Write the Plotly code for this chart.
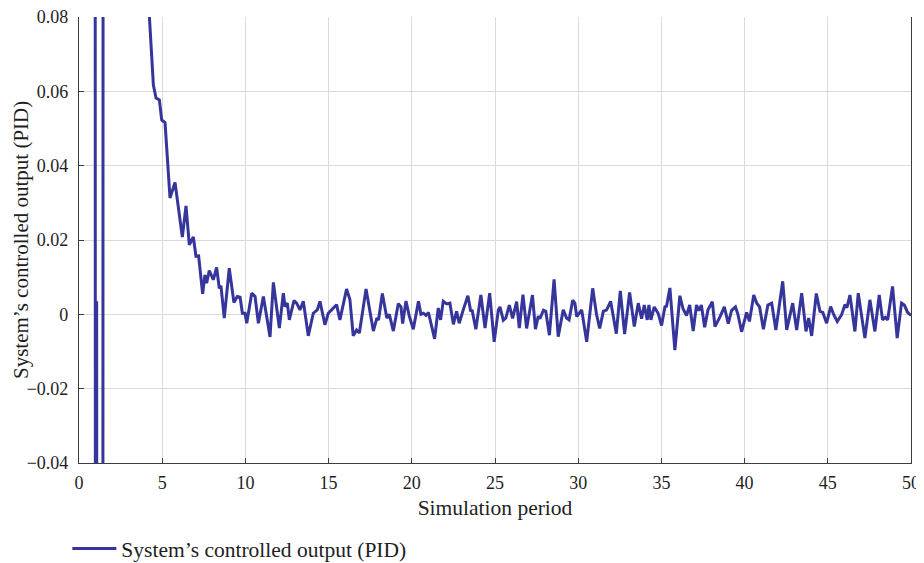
import plotly.graph_objects as go

# Simulation period (time stamps of read-off points)
period = [
    0.0, 0.96, 1.00, 1.06, 1.10, 1.42, 1.46, 3.60, 4.00, 4.23,
    4.47, 4.63, 4.83, 4.97, 5.17, 5.37, 5.47, 5.77, 6.21, 6.43,
    6.63, 6.87, 7.03, 7.19, 7.43, 7.57, 7.67, 7.83, 8.07, 8.27,
    8.43, 8.53, 8.73, 9.03, 9.31, 9.51, 9.68, 9.82, 9.98, 10.08,
    10.38, 10.58, 10.78, 11.08, 11.48, 11.68, 12.04, 12.28, 12.38, 12.52,
    12.64, 12.92, 13.08, 13.28, 13.48, 13.78, 14.08, 14.32, 14.48, 14.78,
    14.98, 15.18, 15.48, 15.68, 16.08, 16.28, 16.48, 16.68, 16.85, 17.25,
    17.69, 17.90, 18.00, 18.23, 18.50, 18.65, 18.89, 19.19, 19.35, 19.45,
    19.65, 19.85, 20.09, 20.40, 20.55, 20.70, 20.85, 21.00, 21.37, 21.59,
    21.73, 21.89, 22.10, 22.29, 22.50, 22.69, 22.85, 23.09, 23.37, 23.54,
    23.62, 23.85, 24.15, 24.40, 24.68, 24.95, 25.20, 25.30, 25.50, 25.65,
    25.86, 26.06, 26.30, 26.46, 26.68, 26.90, 27.25, 27.43, 27.60, 27.70,
    27.91, 28.05, 28.27, 28.55, 28.80, 29.10, 29.30, 29.45, 29.67, 29.80,
    29.91, 30.21, 30.51, 30.87, 31.10, 31.29, 31.51, 31.71, 31.95, 32.29,
    32.53, 32.79, 33.09, 33.37, 33.61, 33.81, 33.97, 34.15, 34.25, 34.37,
    34.57, 34.81, 35.01, 35.21, 35.31, 35.51, 35.81, 36.11, 36.30, 36.51,
    36.70, 36.91, 37.11, 37.25, 37.40, 37.60, 37.80, 38.06, 38.22, 38.52,
    38.78, 39.02, 39.22, 39.45, 39.60, 39.82, 40.12, 40.29, 40.55, 40.73,
    40.90, 41.13, 41.40, 41.63, 41.88, 42.29, 42.53, 42.89, 43.13, 43.43,
    43.69, 43.85, 44.03, 44.31, 44.53, 44.70, 44.93, 45.17, 45.35, 45.57,
    45.83, 46.03, 46.15, 46.33, 46.63, 46.83, 47.23, 47.53, 47.83, 48.09,
    48.29, 48.45, 48.60, 48.89, 49.17, 49.43, 49.60, 49.80, 50.00,
]

# System's controlled output (PID)
output = [
    0.30, 0.30, -0.30, 0.0035, -0.30, -0.30, 0.30, 0.20, 0.10, 0.0801,
    0.0617, 0.0582, 0.0577, 0.0523, 0.0516, 0.0380, 0.0313, 0.0355, 0.0208, 0.0292,
    0.0187, 0.0208, 0.0156, 0.0157, 0.0055, 0.0106, 0.0084, 0.0118, 0.0093, 0.0126,
    0.0070, 0.0077, -0.0010, 0.0124, 0.0032, 0.0048, 0.0046, 0.0003, 0.0003, -0.0024,
    0.0057, 0.0048, -0.0024, 0.0048, -0.0061, 0.0086, -0.0037, 0.0057, 0.0021, 0.0030,
    -0.0015, 0.0037, 0.0030, 0.0012, 0.0035, -0.0058, 0.0003, 0.0012, 0.0035, -0.0028,
    0.0003, 0.0012, 0.0026, -0.0015, 0.0068, 0.0040, -0.0058, -0.0042, -0.0050, 0.0068,
    -0.0045, -0.0010, -0.0015, 0.0056, -0.0010, 0.0000, -0.0045, 0.0029, 0.0020, -0.0025,
    0.0036, -0.0005, -0.0040, 0.0035, 0.0000, 0.0003, -0.0003, 0.0005, -0.0066, 0.0017,
    -0.0015, 0.0035, 0.0028, 0.0030, -0.0027, 0.0008, -0.0024, 0.0012, 0.0050, 0.0008,
    0.0012, -0.0040, 0.0052, -0.0037, 0.0057, -0.0074, 0.0012, 0.0020, -0.0016, -0.0010,
    0.0025, -0.0011, 0.0034, -0.0037, 0.0053, -0.0038, 0.0052, -0.0040, -0.0005, -0.0012,
    0.0011, 0.0008, -0.0056, 0.0094, -0.0060, 0.0012, -0.0010, -0.0015, 0.0038, 0.0030,
    -0.0006, 0.0012, -0.0074, 0.0070, 0.0000, -0.0038, 0.0008, 0.0012, 0.0035, -0.0052,
    0.0063, -0.0053, 0.0059, -0.0033, 0.0030, -0.0012, 0.0025, -0.0015, 0.0025, -0.0015,
    0.0020, 0.0002, -0.0030, 0.0020, 0.0022, 0.0071, -0.0096, 0.0050, 0.0015, -0.0003,
    0.0025, -0.0045, 0.0025, 0.0010, 0.0025, -0.0035, 0.0012, 0.0034, -0.0033, -0.0007,
    0.0020, -0.0025, 0.0011, 0.0020, 0.0000, -0.0047, 0.0005, -0.0019, 0.0052, 0.0030,
    0.0020, -0.0040, 0.0025, 0.0030, -0.0042, 0.0089, -0.0042, 0.0030, -0.0042, 0.0057,
    -0.0046, -0.0010, -0.0058, 0.0056, 0.0008, 0.0005, -0.0024, 0.0021, 0.0000, -0.0019,
    -0.0001, 0.0026, 0.0018, 0.0052, -0.0046, 0.0057, -0.0064, 0.0039, -0.0046, 0.0052,
    -0.0015, -0.0008, -0.0015, 0.0075, -0.0064, 0.0030, 0.0025, 0.0005, -0.0003,
]

x_ticks = [0, 5, 10, 15, 20, 25, 30, 35, 40, 45, 50]
y_ticks = [-0.04, -0.02, 0, 0.02, 0.04, 0.06, 0.08]
y_tick_labels = ["\u22120.04", "\u22120.02", "0", "0.02", "0.04", "0.06", "0.08"]

FONT = "Liberation Serif"
AXIS_COLOR = "#3c3c3c"
GRID_COLOR = "#dadada"
TEXT_COLOR = "#1e1e1e"
TITLE_SIZE = 21.5

fig = go.Figure()
fig.add_trace(go.Scatter(
    x=period, y=output, mode="lines",
    name="System\u2019s controlled output (PID)",
    line=dict(color="#35359b", width=3),
))

# page body adds an 8px offset, so the figure is 916x555 placed at (8, 8)
fig.update_layout(
    width=916, height=555,
    margin=dict(l=71, r=13, t=9, b=100),
    paper_bgcolor="white", plot_bgcolor="white",
    font=dict(family=FONT, size=18, color=TEXT_COLOR),
    showlegend=True,
    legend=dict(
        xref="paper", yref="container",
        x=-0.014, y=0.026, xanchor="left", yanchor="middle",
        orientation="h", itemwidth=44,
        font=dict(family=FONT, size=TITLE_SIZE, color=TEXT_COLOR),
        bgcolor="rgba(0,0,0,0)",
    ),
    xaxis=dict(
        range=[0, 50], tickvals=x_ticks, automargin=False,
        showgrid=True, gridcolor=GRID_COLOR, gridwidth=1,
        showline=True, linecolor=AXIS_COLOR, linewidth=1.2,
        ticks="inside", ticklen=5, tickcolor=AXIS_COLOR,
        ticklabelstandoff=3, ticklabeloverflow="allow",
        zeroline=False,
        tickfont=dict(family=FONT, size=18, color=TEXT_COLOR),
        title=dict(text="Simulation period", font=dict(family=FONT, size=TITLE_SIZE, color=TEXT_COLOR), standoff=8),
    ),
    yaxis=dict(
        range=[-0.04, 0.08], tickvals=y_ticks, ticktext=y_tick_labels, automargin=False,
        showgrid=True, gridcolor=GRID_COLOR, gridwidth=1,
        showline=True, linecolor=AXIS_COLOR, linewidth=1.2, mirror=True,
        ticks="inside", ticklen=5, tickcolor=AXIS_COLOR,
        ticklabelstandoff=6, ticklabeloverflow="allow",
        zeroline=False,
        tickfont=dict(family=FONT, size=18, color=TEXT_COLOR),
    ),
    annotations=[dict(
        text="System\u2019s controlled output (PID)",
        xref="paper", yref="paper", x=-0.0697, y=0.5,
        xanchor="center", yanchor="middle", textangle=-90, showarrow=False,
        font=dict(family=FONT, size=21, color=TEXT_COLOR),
    )],
)

fig.write_html("out.html")
